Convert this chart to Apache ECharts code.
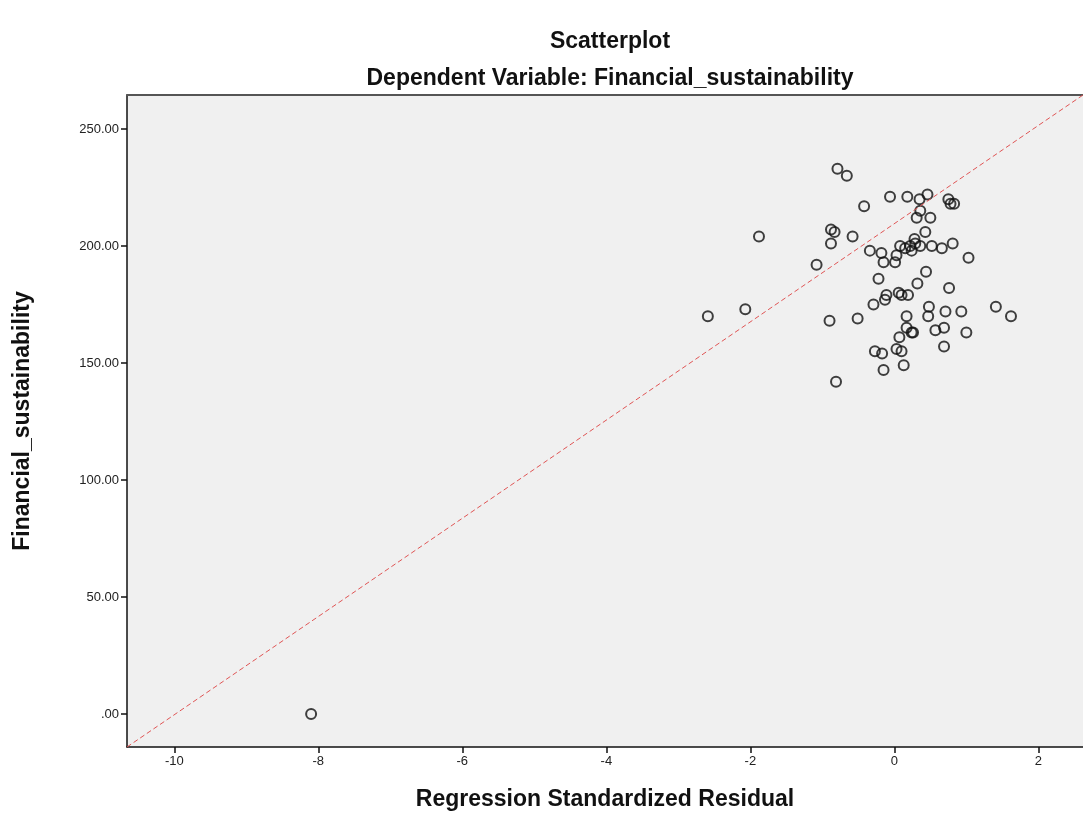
<!DOCTYPE html>
<html>
<head>
<meta charset="utf-8">
<script src="https://cdn.jsdelivr.net/npm/echarts@6/dist/echarts.min.js"></script>
<style>
html,body{margin:0;padding:0;background:#fff;}
#c{width:1083px;height:825px;}
</style>
</head>
<body>
<div id="c"></div>
<script>
// Regression standardized residual (x) and Financial_sustainability (y)
const residuals = [
  -0.79, -0.66, -0.42, -0.06, 0.18, 0.35, 0.46, 0.75, 0.78, 0.83,
  0.36, 0.31, 0.50, -0.88, -0.83, -0.88, -0.58, -1.08, 0.43, -0.34,
  -0.18, -0.15, 0.01, 0.03, 0.08, 0.15, 0.22, 0.29, 0.24, 0.36,
  0.28, 0.52, 0.66, 0.81, 1.03, -0.22, 0.44, 0.32, 0.76, -0.11,
  -0.13, 0.06, 0.10, 0.19, -0.29, 0.48, 0.47, 0.71, 0.93, 1.41,
  1.62, -0.90, -0.51, 0.17, 0.17, 0.24, 0.26, 0.07, 0.57, 0.69,
  1.00, 0.69, -0.27, -0.17, 0.03, 0.10, -0.15, 0.13, -0.81, -1.88,
  -2.59, -2.07, -8.10
];
const sustainability = [
  233, 230, 217, 221, 221, 220, 222, 220, 218, 218,
  215, 212, 212, 207, 206, 201, 204, 192, 206, 198,
  197, 193, 193, 196, 200, 199, 200, 201, 198, 200,
  203, 200, 199, 201, 195, 186, 189, 184, 182, 179,
  177, 180, 179, 179, 175, 174, 170, 172, 172, 174,
  170, 168, 169, 170, 165, 163, 163, 161, 164, 165,
  163, 157, 155, 154, 156, 155, 147, 149, 142, 204,
  170, 173, 0
];
const xTicks = [-10, -8, -6, -4, -2, 0, 2];
const yTicks = [0, 50, 100, 150, 200, 250];
const xRange = [-10.657, 2.62];
const yRange = [-14.1, 264.5];

const points = residuals.map((x, i) => [x, sustainability[i]]);

const chart = echarts.init(document.getElementById('c'), null, {renderer: 'canvas'});
const font = 'Liberation Sans, Arial, sans-serif';
const bold = {fontFamily: font, fontWeight: 'bold', fontSize: 23, color: '#111'};
chart.setOption({
  animation: false,
  backgroundColor: '#ffffff',
  title: [
    {text: 'Scatterplot', left: 605, top: 25, textAlign: 'center', textStyle: bold},
    {text: 'Dependent Variable: Financial_sustainability', left: 605, top: 62, textAlign: 'center', textStyle: bold}
  ],
  grid: {
    left: 127, right: 0, top: 95, bottom: 78,
    show: true, backgroundColor: '#f0f0f0', borderWidth: 0
  },
  xAxis: [{
    type: 'value', min: xRange[0], max: xRange[1],
    name: 'Regression Standardized Residual', nameLocation: 'middle', nameGap: 41,
    nameTextStyle: bold,
    axisLine: {show: true, onZero: false, lineStyle: {color: '#111', width: 1.5}},
    axisTick: {show: true, customValues: xTicks, length: 6, lineStyle: {color: '#111', width: 1.5}},
    axisLabel: {customValues: xTicks, fontFamily: font, fontSize: 13, color: '#222', margin: 8},
    splitLine: {show: false}
  }, {
    type: 'value', position: 'top', min: xRange[0], max: xRange[1],
    axisLine: {show: true, onZero: false, lineStyle: {color: '#555', width: 2}},
    axisTick: {show: false}, axisLabel: {show: false}, splitLine: {show: false}
  }],
  yAxis: {
    type: 'value', min: yRange[0], max: yRange[1],
    name: 'Financial_sustainability', nameLocation: 'middle', nameGap: 93,
    nameTextStyle: bold,
    axisLine: {show: true, onZero: false, lineStyle: {color: '#111', width: 1.5}},
    axisTick: {show: true, customValues: yTicks, length: 6, lineStyle: {color: '#111', width: 1.5}},
    axisLabel: {customValues: yTicks, fontFamily: font, fontSize: 13, color: '#222', margin: 8,
      formatter: v => v === 0 ? '.00' : v.toFixed(2)},
    splitLine: {show: false}
  },
  series: [{
    type: 'scatter',
    xAxisIndex: 0,
    data: points,
    symbol: 'circle',
    symbolSize: 10,
    itemStyle: {color: 'rgba(0,0,0,0)', borderColor: '#111', borderWidth: 2},
    markLine: {
      silent: true,
      symbol: ['none', 'none'],
      label: {show: false},
      lineStyle: {color: '#e05555', type: [5, 3], width: 1},
      data: [[{coord: [xRange[0], yRange[0]]}, {coord: [xRange[1], yRange[1]]}]]
    }
  }]
});
</script>
</body>
</html>
